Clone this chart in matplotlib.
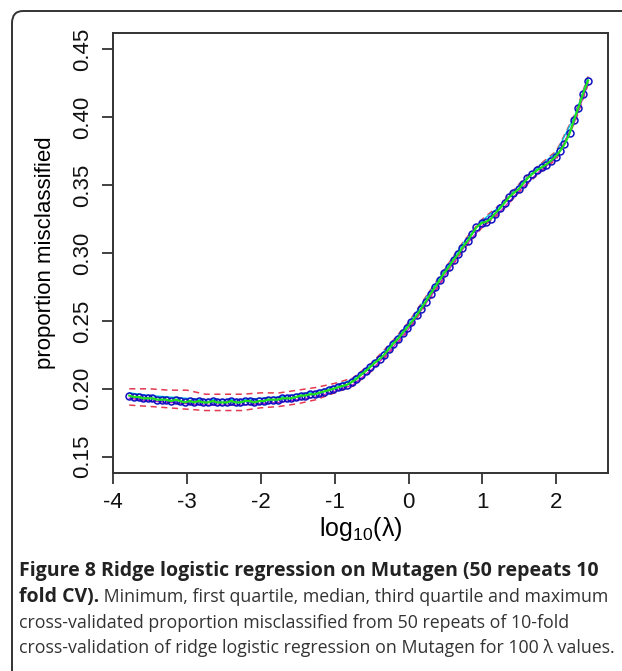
import matplotlib
matplotlib.use("Agg")
import matplotlib.pyplot as plt
from matplotlib.patches import FancyBboxPatch

# log10(lambda) grid, 100 values
log_lambda = [
    -3.78, -3.72, -3.65, -3.59, -3.53, -3.47, -3.40, -3.34, -3.28, -3.22,
    -3.15, -3.09, -3.03, -2.96, -2.90, -2.84, -2.78, -2.71, -2.65, -2.59,
    -2.53, -2.46, -2.40, -2.34, -2.28, -2.21, -2.15, -2.09, -2.02, -1.96,
    -1.90, -1.84, -1.77, -1.71, -1.65, -1.59, -1.52, -1.46, -1.40, -1.33,
    -1.27, -1.21, -1.15, -1.08, -1.02, -0.96, -0.90, -0.83, -0.77, -0.71,
    -0.65, -0.58, -0.52, -0.46, -0.39, -0.33, -0.27, -0.21, -0.14, -0.08,
    -0.02, 0.04, 0.11, 0.17, 0.23, 0.30, 0.36, 0.42, 0.48, 0.55,
    0.61, 0.67, 0.73, 0.80, 0.86, 0.92, 0.99, 1.05, 1.11, 1.17,
    1.24, 1.30, 1.36, 1.42, 1.49, 1.55, 1.61, 1.67, 1.74, 1.80,
    1.86, 1.93, 1.99, 2.05, 2.11, 2.18, 2.24, 2.30, 2.36, 2.43,
]
median_err = [
    0.195, 0.194, 0.194, 0.193, 0.193, 0.193, 0.192, 0.192, 0.192, 0.191,
    0.192, 0.191, 0.190, 0.191, 0.190, 0.191, 0.190, 0.190, 0.191, 0.190,
    0.190, 0.190, 0.191, 0.190, 0.190, 0.191, 0.191, 0.190, 0.191, 0.191,
    0.192, 0.192, 0.192, 0.193, 0.193, 0.193, 0.194, 0.195, 0.195, 0.196,
    0.196, 0.197, 0.198, 0.199, 0.200, 0.201, 0.202, 0.203, 0.205, 0.207,
    0.210, 0.213, 0.216, 0.219, 0.222, 0.225, 0.229, 0.233, 0.237, 0.241,
    0.245, 0.249, 0.254, 0.259, 0.264, 0.270, 0.275, 0.280, 0.285, 0.290,
    0.295, 0.299, 0.304, 0.309, 0.314, 0.319, 0.322, 0.323, 0.325, 0.329,
    0.333, 0.337, 0.341, 0.344, 0.347, 0.351, 0.355, 0.358, 0.361, 0.363,
    0.365, 0.368, 0.371, 0.375, 0.380, 0.388, 0.398, 0.407, 0.417, 0.427,
]

# coarser grid for the min / quartile / max curves
band_x = [-3.78, -3.5, -3.25, -3.0, -2.75, -2.5, -2.25, -2.0, -1.75, -1.5,
          -1.25, -1.0, -0.75, -0.5, -0.25, 0.0, 0.25, 0.5, 0.75, 1.0,
          1.25, 1.5, 1.75, 2.0, 2.25, 2.43]
max_err = [0.200, 0.200, 0.199, 0.199, 0.196, 0.196, 0.196, 0.197, 0.197, 0.199,
           0.201, 0.204, 0.208, 0.219, 0.233, 0.249, 0.269, 0.289, 0.309, 0.325,
           0.336, 0.351, 0.364, 0.375, 0.402, 0.430]
q3_err = [0.197, 0.195, 0.194, 0.193, 0.192, 0.192, 0.192, 0.193, 0.194, 0.196,
          0.198, 0.202, 0.207, 0.218, 0.232, 0.248, 0.268, 0.288, 0.308, 0.324,
          0.335, 0.350, 0.363, 0.374, 0.401, 0.429]
q1_err = [0.193, 0.191, 0.190, 0.189, 0.188, 0.188, 0.188, 0.189, 0.190, 0.192,
          0.194, 0.198, 0.203, 0.214, 0.228, 0.244, 0.264, 0.284, 0.304, 0.320,
          0.331, 0.346, 0.359, 0.370, 0.397, 0.425]
min_err = [0.188, 0.187, 0.186, 0.185, 0.184, 0.184, 0.184, 0.186, 0.187, 0.189,
           0.192, 0.197, 0.202, 0.213, 0.227, 0.243, 0.263, 0.283, 0.303, 0.319,
           0.330, 0.345, 0.358, 0.369, 0.396, 0.424]

x_ticks = [-4, -3, -2, -1, 0, 1, 2]
y_ticks = [0.15, 0.20, 0.25, 0.30, 0.35, 0.40, 0.45]

caption_title = "Figure 8 Ridge logistic regression on Mutagen (50 repeats 10"
caption_bold2 = "fold CV)."
caption_rest = [
    " Minimum, first quartile, median, third quartile and maximum",
    "cross-validated proportion misclassified from 50 repeats of 10-fold",
    "cross-validation of ridge logistic regression on Mutagen for 100 \u03bb values.",
]

W, H = 622, 671
plt.rcParams['font.family'] = ['Liberation Sans', 'DejaVu Sans']
plt.rcParams['mathtext.fontset'] = 'custom'
plt.rcParams['mathtext.rm'] = 'Liberation Sans'
plt.rcParams['mathtext.it'] = 'Liberation Sans:italic'

fig = plt.figure(figsize=(W / 100, H / 100), dpi=100)
ax = fig.add_axes([113 / W, 1 - 473 / H, (608 - 113) / W, (473 - 33) / H])

red = '#e33a52'
ax.plot(band_x, max_err, color=red, lw=1.1, dashes=(4, 3))
ax.plot(band_x, min_err, color=red, lw=1.1, dashes=(4, 3))
ax.plot(band_x, q3_err, color='#00c8e0', lw=1.0)
ax.plot(band_x, q1_err, color='#c020c0', lw=1.0)
ax.plot(log_lambda, median_err, color='#1010c0', lw=0, marker='o', ms=5,
        mfc='none', mew=1.1)
ax.plot(log_lambda, median_err, color='#20e020', lw=1.6)

ax.set_xlim(-4.0, 2.70)
ax.set_ylim(0.138, 0.462)
ax.set_xticks(x_ticks)
ax.set_yticks(y_ticks)
ax.set_xticklabels([str(t) for t in x_ticks])
ax.set_yticklabels([f"{t:.2f}" for t in y_ticks], rotation=90, va='center')
ax.tick_params(direction='out', length=8, width=1.3, labelsize=16, pad=6,
               color='#333333', labelcolor='#111111')
for s in ax.spines.values():
    s.set_linewidth(1.4)
    s.set_color('#333333')

ax.set_ylabel('proportion misclassified', fontsize=16, labelpad=12)
ax.set_xlabel('log$_{10}$(\u03bb)', fontsize=18, labelpad=1)

# rounded frame around the figure panel
frame = FancyBboxPatch((12 / W, 1 - 690 / H), 640 / W, (690 - 11) / H,
                       boxstyle="round,pad=0,rounding_size=0.018",
                       transform=fig.transFigure, fill=False,
                       edgecolor='#333333', lw=1.4, clip_on=False)
fig.patches.append(frame)

cap_font = ['Open Sans', 'DejaVu Sans']
x0 = 19 / W
line_y = [571, 597, 623, 648]

# size caption text so line widths match the reference
fig.canvas.draw()
r = fig.canvas.get_renderer()
probe_b = fig.text(0, 0, caption_title, fontsize=12, fontweight='bold', family=cap_font)
probe_r = fig.text(0, 0, caption_rest[2], fontsize=12, family=cap_font)
size_b = 12 * 578 / probe_b.get_window_extent(r).width
size_r = 12 * 592 / probe_r.get_window_extent(r).width
probe_b.remove()
probe_r.remove()

fig.text(x0, 1 - line_y[0] / H, caption_title, fontsize=size_b,
         fontweight='bold', family=cap_font, va='center', color='#222222')
t_b = fig.text(x0, 1 - line_y[1] / H, caption_bold2, fontsize=size_b,
               fontweight='bold', family=cap_font, va='center', color='#222222')
fig.canvas.draw()
bb = t_b.get_window_extent()
fig.text(bb.x1 / W, 1 - line_y[1] / H, caption_rest[0], fontsize=size_r,
         family=cap_font, va='center', color='#333333')
fig.text(x0, 1 - line_y[2] / H, caption_rest[1], fontsize=size_r,
         family=cap_font, va='center', color='#333333')
fig.text(x0, 1 - line_y[3] / H, caption_rest[2], fontsize=size_r,
         family=cap_font, va='center', color='#333333')

fig.savefig('out.png', dpi=100)
